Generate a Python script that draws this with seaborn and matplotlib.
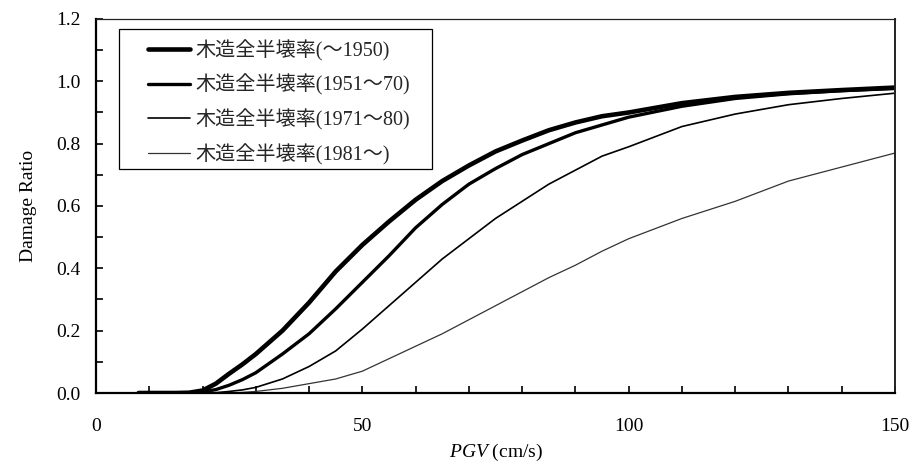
import matplotlib
matplotlib.use("Agg")
import matplotlib.pyplot as plt
import seaborn as sns
import pandas as pd
from matplotlib.patches import Rectangle
from matplotlib.ticker import MultipleLocator, FormatStrFormatter

pgv = [8, 10, 15, 17.5, 20, 22.5, 25, 27.5, 30, 35, 40, 45, 50, 55, 60, 65, 70, 75, 80, 85,
       90, 95, 100, 110, 120, 130, 140, 150]
r_1950 = [0, 0, 0, 0.001, 0.008, 0.03, 0.062, 0.092, 0.125, 0.20, 0.29, 0.39, 0.475, 0.55,
          0.62, 0.68, 0.73, 0.775, 0.81, 0.843, 0.868, 0.888, 0.90, 0.93, 0.95, 0.963,
          0.972, 0.98]
r_1951_70 = [0, 0, 0, 0, 0.003, 0.011, 0.025, 0.043, 0.065, 0.125, 0.19, 0.27, 0.355, 0.44,
             0.53, 0.605, 0.67, 0.72, 0.765, 0.80, 0.835, 0.86, 0.885, 0.92, 0.945, 0.96,
             0.97, 0.977]
r_1971_80 = [0, 0, 0, 0, 0, 0.001, 0.005, 0.01, 0.018, 0.045, 0.085, 0.135, 0.205, 0.28,
             0.355, 0.43, 0.495, 0.56, 0.615, 0.67, 0.715, 0.76, 0.79, 0.855, 0.895, 0.925,
             0.945, 0.962]
r_1981 = [0, 0, 0, 0, 0, 0, 0, 0.002, 0.005, 0.015, 0.03, 0.045, 0.07, 0.11, 0.15, 0.19,
          0.235, 0.28, 0.325, 0.37, 0.41, 0.455, 0.495, 0.56, 0.615, 0.68, 0.725, 0.77]
labels = ["木造全半壊率(～1950)", "木造全半壊率(1951～70)", "木造全半壊率(1971～80)", "木造全半壊率(1981～)"]

series = [r_1950, r_1951_70, r_1971_80, r_1981]
widths = [3.3, 2.4, 1.2, 0.9]
colors = ["#000000", "#000000", "#000000", "#333333"]

sns.set_theme(style="ticks")
plt.rcParams["font.family"] = ["Liberation Serif", "Noto Sans CJK JP", "DejaVu Sans"]
plt.rcParams["mathtext.fontset"] = "custom"
plt.rcParams["mathtext.rm"] = "Liberation Serif"
plt.rcParams["mathtext.it"] = "Liberation Serif:italic"

fig = plt.figure(figsize=(9.14, 4.65), dpi=100)
ax = fig.add_axes([96 / 914, 1 - 393 / 465, (895 - 96) / 914, (393 - 19) / 465])

for vals, lab, lw, c in zip(series, labels, widths, colors):
    df = pd.DataFrame({"PGV": pgv, "ratio": vals})
    sns.lineplot(data=df, x="PGV", y="ratio", ax=ax, color=c, linewidth=lw, label=lab)

ax.set_xlim(0, 150)
ax.set_ylim(0, 1.2)
ax.xaxis.set_major_locator(MultipleLocator(50))
ax.xaxis.set_minor_locator(MultipleLocator(10))
ax.yaxis.set_major_locator(MultipleLocator(0.2))
ax.yaxis.set_minor_locator(MultipleLocator(0.1))
ax.yaxis.set_major_formatter(FormatStrFormatter("%.1f"))
ax.tick_params(axis="x", which="both", direction="in", length=5, width=1.2,
               pad=18, labelsize=14, colors="black")
ax.tick_params(axis="y", which="both", direction="in", length=5, width=1.2,
               pad=11, labelsize=14, colors="black")

for s in ["left", "bottom"]:
    ax.spines[s].set_linewidth(1.6)
    ax.spines[s].set_color("black")
ax.spines["top"].set_linewidth(0.9)
ax.spines["top"].set_color("#222222")
ax.spines["right"].set_linewidth(1.4)
ax.spines["right"].set_color("#222222")
ax.spines["top"].set_visible(True)
ax.spines["right"].set_visible(True)

ax.set_xlabel(r"$\mathit{PGV}$ (cm/s)", fontsize=14, labelpad=5, color="black")
ax.set_ylabel("Damage Ratio", fontsize=14, labelpad=14, color="black")

leg = ax.legend(loc="upper left", bbox_to_anchor=(0.065, 0.944), frameon=False,
                borderpad=0, borderaxespad=0, handlelength=2.1, handletextpad=0.25,
                labelspacing=0.66,
                prop={"family": ["Liberation Serif", "Noto Sans CJK JP"], "size": 14.5})
leg.set_zorder(6)

fig.canvas.draw()
bb = leg.get_window_extent()
inv = ax.transAxes.inverted()
x0, y0 = inv.transform((bb.x0 - 29, bb.y0 - 4))
x1, y1 = inv.transform((bb.x1 + 22, bb.y1 + 11))
ax.add_patch(Rectangle((x0, y0), x1 - x0, y1 - y0, transform=ax.transAxes,
                       facecolor="white", edgecolor="black", linewidth=0.9, zorder=5))

fig.savefig("out.png", dpi=100)
